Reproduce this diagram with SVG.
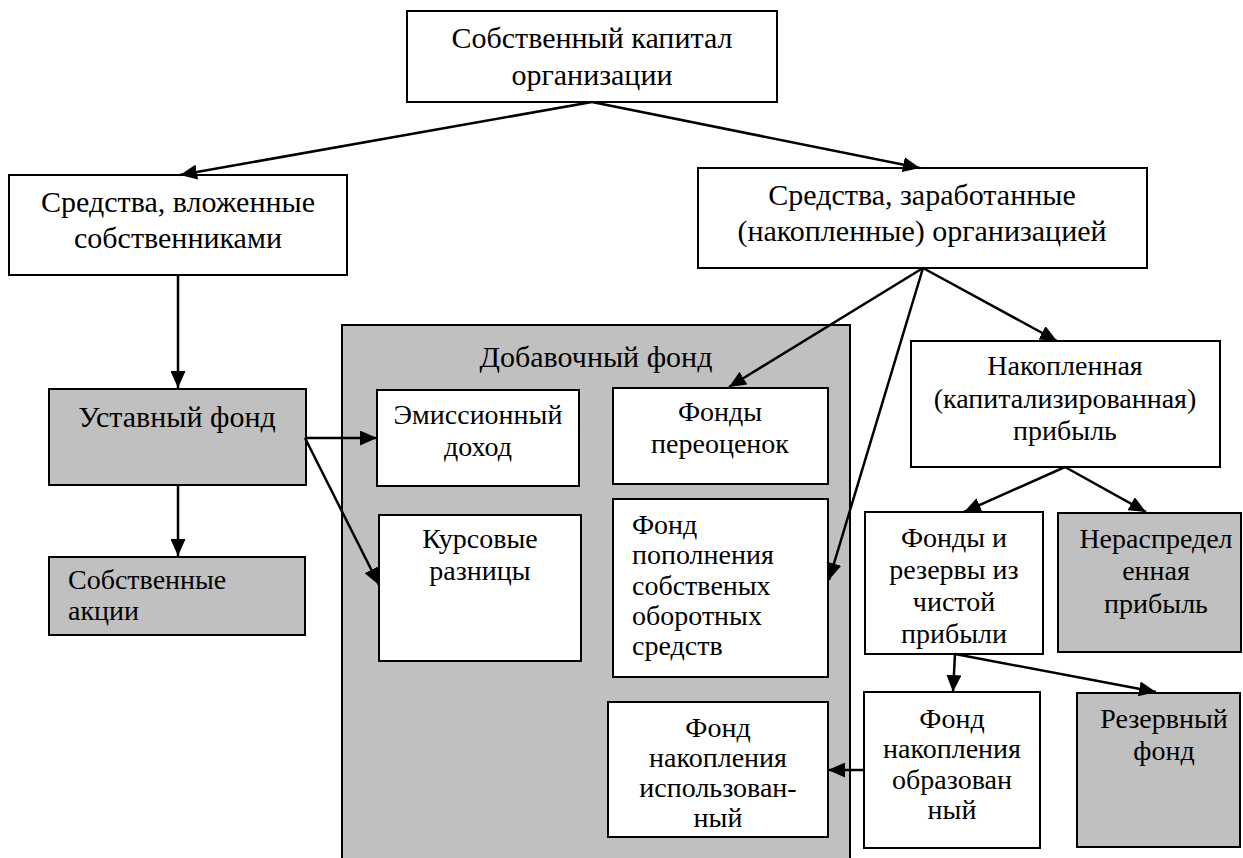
<svg xmlns="http://www.w3.org/2000/svg" width="1243" height="858" viewBox="0 0 1243 858">
<defs>
<style>
.box{fill:#ffffff;stroke:#000;stroke-width:2}
.gray{fill:#c0c0c0;stroke:#000;stroke-width:2}
.c{stroke:#000;stroke-width:2.5;fill:none;marker-end:url(#ah)}
</style>
<marker id="ah" markerUnits="userSpaceOnUse" markerWidth="17" markerHeight="15" refX="17" refY="7.5" orient="auto">
<path d="M0,0 L17,7.5 L0,15 z" fill="#000"/>
</marker>
</defs>
<rect width="1243" height="858" fill="#fff"/>
<g font-family="'Liberation Serif', 'Times New Roman', serif" font-size="28" fill="#000" text-anchor="middle">
<g id="n-dobav">
<rect class="gray" x="342" y="325" width="508" height="540"/>
<text font-size="30" x="596" y="367">Добавочный фонд</text>
</g>
<g id="n-top">
<rect class="box" x="407" y="11" width="370" height="91"/>
<text font-size="30" x="592" y="48">Собственный капитал</text>
<text font-size="30" x="592" y="85">организации</text>
</g>
<g id="n-vlozh">
<rect class="box" x="9" y="175" width="338" height="100"/>
<text font-size="30" x="178" y="212">Средства, вложенные</text>
<text font-size="30" x="178" y="248">собственниками</text>
</g>
<g id="n-zarab">
<rect class="box" x="698" y="168" width="449" height="100"/>
<text font-size="30" x="922" y="205">Средства, заработанные</text>
<text font-size="30" x="922" y="241">(накопленные) организацией</text>
</g>
<g id="n-ustav">
<rect class="gray" x="49" y="389" width="257" height="96"/>
<text font-size="30" x="177" y="427">Уставный фонд</text>
</g>
<g id="n-akcii">
<rect class="gray" x="49" y="557" width="256" height="78"/>
<text text-anchor="start" x="68" y="589">Собственные</text>
<text text-anchor="start" x="68" y="620">акции</text>
</g>
<g id="n-emis">
<rect class="box" x="377" y="390" width="202" height="96"/>
<text x="478" y="424">Эмиссионный</text>
<text x="478" y="456">доход</text>
</g>
<g id="n-kurs">
<rect class="box" x="379" y="515" width="202" height="146"/>
<text x="480" y="548">Курсовые</text>
<text x="480" y="580">разницы</text>
</g>
<g id="n-pereoc">
<rect class="box" x="613" y="388" width="215" height="96"/>
<text x="720" y="421">Фонды</text>
<text x="720" y="453">переоценок</text>
</g>
<g id="n-popoln">
<rect class="box" x="613" y="499" width="215" height="178"/>
<text text-anchor="start" x="632" y="534">Фонд</text>
<text text-anchor="start" x="632" y="564">пополнения</text>
<text text-anchor="start" x="632" y="595">собственых</text>
<text text-anchor="start" x="632" y="625">оборотных</text>
<text text-anchor="start" x="632" y="655">средств</text>
</g>
<g id="n-ispolz">
<rect class="box" x="608" y="702" width="220" height="135"/>
<text x="718" y="737">Фонд</text>
<text x="718" y="767">накопления</text>
<text x="718" y="797">использован-</text>
<text x="718" y="827">ный</text>
</g>
<g id="n-nakopl">
<rect class="box" x="911" y="341" width="309" height="126"/>
<text x="1065" y="375">Накопленная</text>
<text x="1065" y="408">(капитализированная)</text>
<text x="1065" y="440">прибыль</text>
</g>
<g id="n-fondyrez">
<rect class="box" x="865" y="512" width="178" height="142"/>
<text x="954" y="547">Фонды и</text>
<text x="954" y="579">резервы из</text>
<text x="954" y="611">чистой</text>
<text x="954" y="643">прибыли</text>
</g>
<g id="n-neraspr">
<rect class="gray" x="1058" y="513" width="183" height="139"/>
<text x="1156" y="548">Нераспредел</text>
<text x="1156" y="580">енная</text>
<text x="1156" y="613">прибыль</text>
</g>
<g id="n-obraz">
<rect class="box" x="864" y="692" width="176" height="156"/>
<text x="952" y="728">Фонд</text>
<text x="952" y="758">накопления</text>
<text x="952" y="789">образован</text>
<text x="952" y="819">ный</text>
</g>
<g id="n-rezerv">
<rect class="gray" x="1077" y="693" width="163" height="154"/>
<text x="1164" y="728">Резервный</text>
<text x="1164" y="760">фонд</text>
</g>
</g>
<g id="connectors">
<line class="c" x1="592" y1="102" x2="180" y2="175"/>
<line class="c" x1="592" y1="102" x2="920" y2="168"/>
<line class="c" x1="178" y1="275" x2="178" y2="388"/>
<line class="c" x1="178" y1="486" x2="178" y2="556"/>
<line class="c" x1="305" y1="438" x2="377" y2="438"/>
<line class="c" x1="305" y1="438" x2="379" y2="585"/>
<line class="c" x1="923" y1="268" x2="729" y2="387"/>
<line class="c" x1="923" y1="268" x2="829" y2="580"/>
<line class="c" x1="923" y1="268" x2="1057" y2="341"/>
<line class="c" x1="1065" y1="467" x2="964" y2="512"/>
<line class="c" x1="1065" y1="467" x2="1146" y2="512"/>
<line class="c" x1="955" y1="654" x2="953" y2="692"/>
<line class="c" x1="955" y1="654" x2="1156" y2="692"/>
<line class="c" x1="864" y1="770" x2="828" y2="770"/>
</g>
</svg>
